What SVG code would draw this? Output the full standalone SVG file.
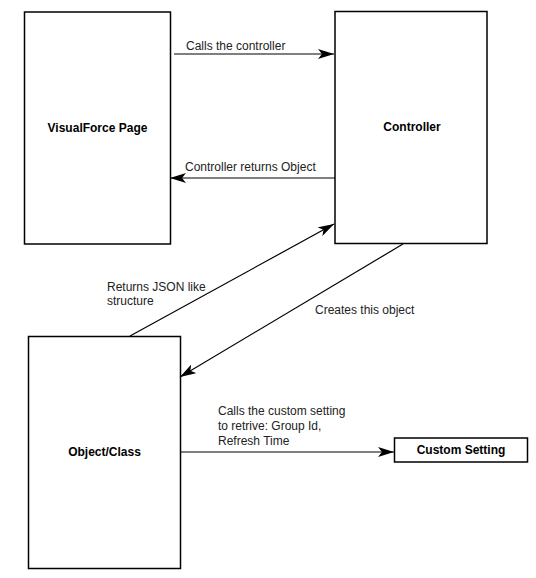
<svg xmlns="http://www.w3.org/2000/svg" width="536" height="578" viewBox="0 0 536 578">
<defs>
<style>
.box{fill:#fff;stroke:#000;stroke-width:1.5}
.lbl{font-family:"Liberation Sans",Arial,sans-serif;font-size:12px;font-weight:bold;fill:#000;text-anchor:middle;dominant-baseline:central}
.edge{stroke:#000;stroke-width:1.2;fill:none;marker-end:url(#arr)}
.etxt{font-family:"Liberation Sans",Arial,sans-serif;font-size:12px;fill:#222}
</style>
<marker id="arr" viewBox="0 0 16 10" refX="16" refY="5" markerWidth="16" markerHeight="10" markerUnits="userSpaceOnUse" orient="auto">
<path d="M0,0 L16,5 L0,10 L4,5 z" fill="#000"/>
</marker>
</defs>
<rect width="536" height="578" fill="#fff"/>
<g id="visualforce-page">
<rect class="box" x="24.5" y="12" width="146" height="232"/>
<text class="lbl" x="97.5" y="128">VisualForce Page</text>
</g>
<g id="controller">
<rect class="box" x="335" y="11.5" width="152" height="232"/>
<text class="lbl" x="412" y="127">Controller</text>
</g>
<g id="object-class">
<rect class="box" x="28.5" y="336.5" width="152" height="232"/>
<text class="lbl" x="104.5" y="452">Object/Class</text>
</g>
<g id="custom-setting">
<rect class="box" x="394.5" y="438" width="133" height="24"/>
<text class="lbl" x="461" y="450">Custom Setting</text>
</g>
<g id="connectors">
<line class="edge" x1="174" y1="54" x2="334" y2="54"/>
<text class="etxt" x="186" y="50">Calls the controller</text>
<line class="edge" x1="335" y1="178" x2="170" y2="178"/>
<text class="etxt" x="185" y="171">Controller returns Object</text>
<line class="edge" x1="130" y1="336" x2="334" y2="224"/>
<text class="etxt" x="107" y="291">Returns JSON like</text>
<text class="etxt" x="107" y="305">structure</text>
<line class="edge" x1="403" y1="244" x2="180" y2="377"/>
<text class="etxt" x="315" y="314">Creates this object</text>
<line class="edge" x1="181" y1="452" x2="394" y2="452"/>
<text class="etxt" x="218" y="415">Calls the custom setting</text>
<text class="etxt" x="218" y="430">to retrive: Group Id,</text>
<text class="etxt" x="218" y="445">Refresh Time</text>
</g>
</svg>
